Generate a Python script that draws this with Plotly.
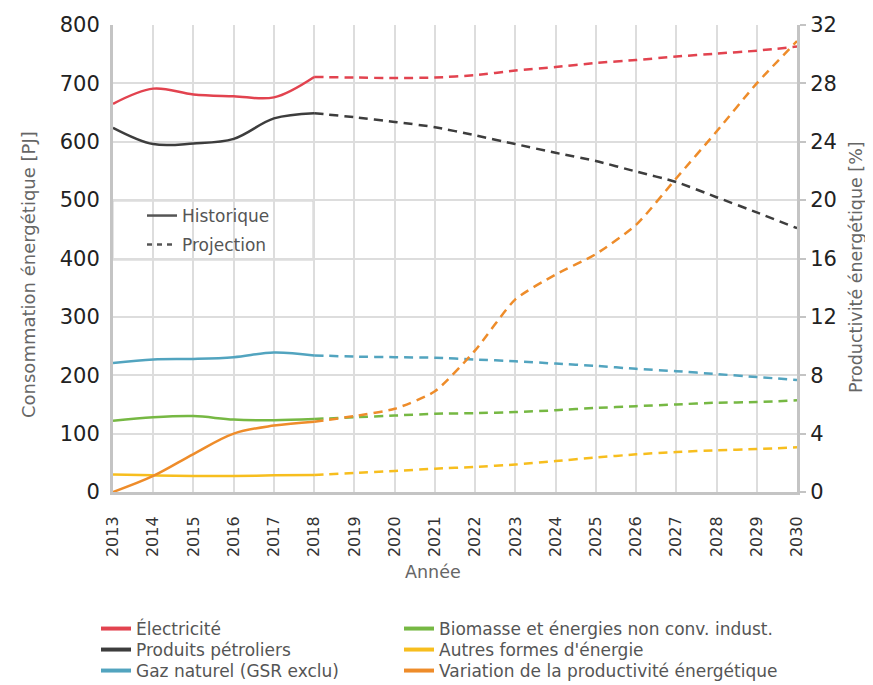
import plotly.graph_objects as go

years_hist = [2013, 2014, 2015, 2016, 2017, 2018]
years_proj = [2018, 2019, 2020, 2021, 2022, 2023, 2024, 2025, 2026, 2027, 2028, 2029, 2030]

elec_hist = [665, 691, 681, 678, 676, 711]
elec_proj = [711, 710, 709, 710, 714, 722, 728, 735, 740, 746, 751, 756, 763]

petrol_hist = [624, 596, 597, 605, 640, 649]
petrol_proj = [649, 642, 634, 625, 611, 596, 581, 567, 549, 531, 505, 479, 452]

gaz_hist = [221, 227, 228, 231, 239, 234]
gaz_proj = [234, 232, 231, 230, 227, 224, 220, 216, 211, 207, 202, 197, 192]

bio_hist = [122, 128, 130, 124, 123, 125]
bio_proj = [125, 128, 131, 134, 135, 137, 140, 144, 147, 150, 153, 154, 157]

autres_hist = [30, 28.5, 27.5, 27.5, 28.5, 29]
autres_proj = [29, 32.5, 36, 40, 43, 47, 53, 59, 64.5, 68.5, 71.5, 73.5, 76.5]

# Variation de la productivité énergétique [%] (right axis)
prod_hist = [0.0, 1.1, 2.6, 4.0, 4.55, 4.82]
prod_proj = [4.82, 5.2, 5.7, 6.9, 9.7, 13.2, 14.9, 16.3, 18.3, 21.5, 24.7, 28.0, 30.9]

series_names = ["Électricité", "Produits pétroliers", "Gaz naturel (GSR exclu)",
                "Biomasse et énergies non conv. indust.", "Autres formes d'énergie",
                "Variation de la productivité énergétique"]
series_colors = ["#E2434F", "#3d3d3d", "#52A4BF", "#76B843", "#F7BE1E", "#EE8C2A"]
series_hist = [elec_hist, petrol_hist, gaz_hist, bio_hist, autres_hist, prod_hist]
series_proj = [elec_proj, petrol_proj, gaz_proj, bio_proj, autres_proj, prod_proj]
series_axis = ["y", "y", "y", "y", "y", "y2"]

fig = go.Figure()

for name, color, hist, proj, yax in zip(series_names, series_colors, series_hist, series_proj, series_axis):
    fig.add_trace(go.Scatter(x=years_hist, y=hist, mode="lines", yaxis=yax,
                             line=dict(color=color, width=2.5, shape="spline", smoothing=1.0),
                             showlegend=False, hoverinfo="skip"))
    fig.add_trace(go.Scatter(x=years_proj, y=proj, mode="lines", yaxis=yax,
                             line=dict(color=color, width=2.5, dash="9px,6px", shape="spline", smoothing=0.6),
                             showlegend=False, hoverinfo="skip"))

# Page offset: the browser body margin shifts the figure by 8px
OFF = 8
W, H = 873 - OFF, 685 - OFF
ML, MT = 113 - OFF, 25 - OFF
PW, PH = 684, 467
MR, MB = W - ML - PW, H - MT - PH

def px_to_paper_x(px_page):
    return (px_page - OFF - ML) / PW

def py_to_paper_y(py_page):
    return (MT + PH - (py_page - OFF)) / PH

def py_to_container(py_page):
    return 1 - (py_page - OFF) / H

legend_font = dict(size=17, color="#555555")
layout_legends = {}

# bottom legend, two columns, each entry placed individually
row_y = [629, 650, 671]
col_text_x = [137, 440]
for i, (name, color) in enumerate(zip(series_names, series_colors)):
    col, row = divmod(i, 3)
    key = "legend%d" % (i + 3)
    fig.add_trace(go.Scatter(x=[None], y=[None], mode="lines", name=name, legend=key,
                             line=dict(color=color, width=4)))
    layout_legends[key] = dict(x=px_to_paper_x(col_text_x[col] - 41), y=py_to_container(row_y[row]),
                               yref="container", xanchor="left", yanchor="middle",
                               font=legend_font, bgcolor="rgba(0,0,0,0)")

# inset legend (Historique / Projection)
inset_names = ["Historique", "Projection"]
inset_dash = ["solid", "5px,5px"]
inset_y = [216, 245]
for j, (name, dash) in enumerate(zip(inset_names, inset_dash)):
    key = "legend" if j == 0 else "legend2"
    fig.add_trace(go.Scatter(x=[None], y=[None], mode="lines", name=name, legend=key,
                             line=dict(color="#555555", width=2.5, dash=dash)))
    layout_legends[key] = dict(x=px_to_paper_x(183 - 41), y=py_to_container(inset_y[j]),
                               yref="container", xanchor="left", yanchor="middle",
                               font=dict(size=17, color="#555555"), bgcolor="rgba(0,0,0,0)")

grid = "#dddddd"
axline = "#c4c4c4"
font_family = "DejaVu Sans"

fig.update_layout(
    width=W, height=H,
    margin=dict(l=ML, r=MR, t=MT, b=MB, autoexpand=False),
    paper_bgcolor="white", plot_bgcolor="white",
    font=dict(family=font_family, color="#333333"),
    xaxis=dict(range=[2013, 2030], dtick=1, tickangle=-90, showgrid=True, gridcolor=grid,
               gridwidth=1.5, showline=True, linecolor=axline, linewidth=3, automargin=False,
               tickfont=dict(size=16, color="#333333"), ticklabelstandoff=15,
               zeroline=False, ticks=""),
    yaxis=dict(range=[0, 800], dtick=100, showgrid=True, gridcolor=grid, gridwidth=1.5,
               showline=True, linecolor=axline, linewidth=3, zeroline=False, automargin=False,
               tickfont=dict(size=21, color="#222222"), ticklabelstandoff=6),
    yaxis2=dict(range=[0, 32], dtick=4, overlaying="y", side="right", showgrid=False,
                showline=True, linecolor=axline, linewidth=3, zeroline=False, automargin=False,
                ticks="outside", ticklen=6, tickcolor=axline, tickwidth=1.5,
                tickfont=dict(size=21, color="#222222")),
    annotations=[
        dict(text="Consommation énergétique [PJ]", xref="paper", yref="paper",
             x=px_to_paper_x(28), y=py_to_paper_y(275), xanchor="center", yanchor="middle",
             textangle=-90, showarrow=False, font=dict(size=18, color="#666666")),
        dict(text="Productivité énergétique [%]", xref="paper", yref="paper",
             x=px_to_paper_x(856), y=py_to_paper_y(267), xanchor="center", yanchor="middle",
             textangle=-90, showarrow=False, font=dict(size=17.5, color="#666666")),
        dict(text="Année", xref="paper", yref="paper",
             x=px_to_paper_x(433), y=py_to_paper_y(572), xanchor="center", yanchor="middle",
             showarrow=False, font=dict(size=17.5, color="#666666")),
    ],
    shapes=[dict(type="rect", xref="x domain", yref="y domain",
                 x0=0, x1=200 / PW, y0=(492 - 260) / PH, y1=(492 - 201) / PH,
                 line=dict(color="#cccccc", width=1), fillcolor="white", layer="below")],
    **layout_legends,
)

fig.write_html("out.html")
